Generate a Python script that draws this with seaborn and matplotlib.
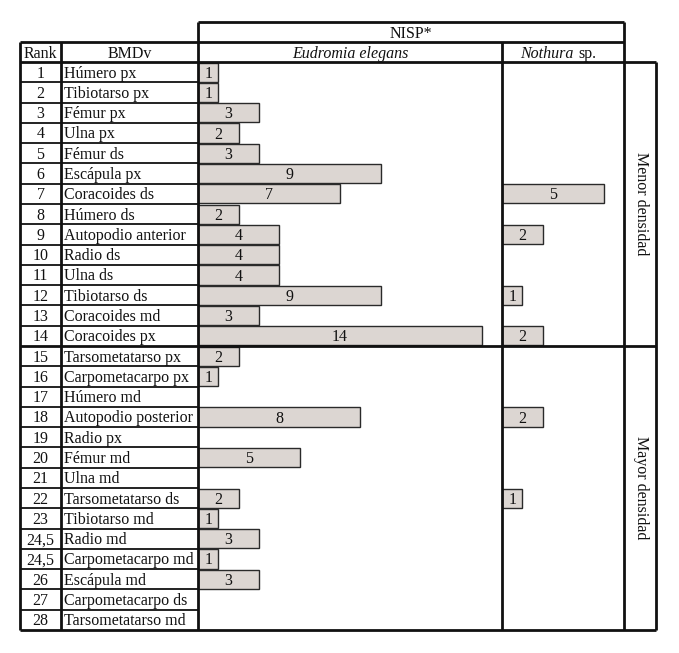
import pandas as pd
import matplotlib
matplotlib.use("Agg")
import matplotlib.pyplot as plt
import seaborn as sns

# datos de la tabla
rank = ["1", "2", "3", "4", "5", "6", "7", "8", "9", "10", "11", "12", "13", "14",
        "15", "16", "17", "18", "19", "20", "21", "22", "23", "24,5", "24,5", "26", "27", "28"]
bmdv = ["Húmero px", "Tibiotarso px", "Fémur px", "Ulna px", "Fémur ds", "Escápula px",
        "Coracoides ds", "Húmero ds", "Autopodio anterior", "Radio ds", "Ulna ds",
        "Tibiotarso ds", "Coracoides md", "Coracoides px", "Tarsometatarso px",
        "Carpometacarpo px", "Húmero md", "Autopodio posterior", "Radio px", "Fémur md",
        "Ulna md", "Tarsometatarso ds", "Tibiotarso md", "Radio md", "Carpometacarpo md",
        "Escápula md", "Carpometacarpo ds", "Tarsometatarso md"]
eudromia = [1, 1, 3, 2, 3, 9, 7, 2, 4, 4, 4, 9, 3, 14, 2, 1, 0, 8, 0, 5, 0, 2, 1, 3, 1, 3, 0, 0]
nothura = [0, 0, 0, 0, 0, 0, 5, 0, 2, 0, 0, 1, 0, 2, 0, 0, 0, 2, 0, 0, 0, 1, 0, 0, 0, 0, 0, 0]
grupos = ["Menor densidad", "Mayor densidad"]

sns.set_style("white")
plt.rcParams['font.family'] = ['Liberation Serif', 'DejaVu Serif']

W, H = 679, 653
fig = plt.figure(figsize=(W / 100, H / 100), dpi=100)

# geometría en píxeles
x_rank, x_bmd, x_eud, x_not, x_grp, x_end = 20, 61, 198, 502, 624, 656
y_nisp, y_head, y_top, y_bot = 22, 42, 62, 630
n = len(bmdv)
row_h = (y_bot - y_top) / n
px_unit = 20.3

bar_color = "#dcd6d2"
edge = "#2a2a2a"
fs = 11.5
k = "#111111"
base = 5.5  # desplazamiento de la línea base respecto al centro de la fila (px)


def bar_axes(x0, x1):
    ax = fig.add_axes([x0 / W, (H - y_bot) / H, (x1 - x0) / W, (y_bot - y_top) / H])
    ax.set_axis_off()
    return ax


def dibujar(ax, valores, x0, x1):
    df = pd.DataFrame({"hueso": bmdv, "nisp": valores})
    df = df[df["nisp"] > 0]
    sns.barplot(data=df, x="nisp", y="hueso", order=bmdv, orient="h", ax=ax,
                color=bar_color, saturation=1, width=0.94, edgecolor=edge,
                linewidth=1.0, errorbar=None)
    for cont in ax.containers:
        labels = ax.bar_label(cont, label_type="center", fontsize=fs, color=k)
        for t in labels:
            t.set_va("baseline")
            t.xyann = (0, -base * 0.72)
    ax.set_xlim(0, (x1 - x0) / px_unit)
    ax.set_ylim(n - 0.5, -0.5)
    ax.set_axis_off()


ax_e = bar_axes(x_eud, x_not)
dibujar(ax_e, eudromia, x_eud, x_not)
ax_n = bar_axes(x_not, x_grp)
dibujar(ax_n, nothura, x_not, x_grp)

# capa de la tabla en píxeles
ov = fig.add_axes([0, 0, 1, 1], facecolor="none")
ov.set_xlim(0, W)
ov.set_ylim(H, 0)
ov.set_axis_off()

lw_out = 2.0
lw_in = 1.3

# líneas horizontales
ov.hlines(y_nisp, x_eud, x_grp, color=k, lw=lw_out)
ov.hlines(y_head, x_rank, x_grp, color=k, lw=lw_out)
ov.hlines(y_top, x_rank, x_end, color=k, lw=lw_out)
ov.hlines(y_bot, x_rank, x_end, color=k, lw=lw_out)
ov.hlines(y_top + 14 * row_h, x_rank, x_end, color=k, lw=lw_out)
for i in range(1, n):
    if i != 14:
        ov.hlines(y_top + i * row_h, x_rank, x_eud, color=k, lw=lw_in)

# líneas verticales
ov.vlines([x_rank, x_bmd], y_head, y_bot, color=k, lw=lw_out)
ov.vlines([x_eud, x_grp], y_nisp, y_bot, color=k, lw=lw_out)
ov.vlines(x_not, y_head, y_bot, color=k, lw=lw_out)
ov.vlines(x_end, y_top, y_bot, color=k, lw=lw_out)


def celda(x, yc, s, ha="center", **kw):
    ov.text(x, yc + base, s, ha=ha, va="baseline", fontsize=fs, color=k, **kw)


# encabezados
celda((x_eud + x_grp) / 2, (y_nisp + y_head) / 2, "NISP*")
celda((x_rank + x_bmd) / 2, (y_head + y_top) / 2, "Rank")
celda((x_bmd + x_eud) / 2, (y_head + y_top) / 2, "BMDv")
celda((x_eud + x_not) / 2, (y_head + y_top) / 2, "Eudromia elegans", style="italic")
celda(573, (y_head + y_top) / 2, "Nothura", ha="right", style="italic")
celda(578, (y_head + y_top) / 2, "sp.", ha="left")

# filas
for i, (r, b) in enumerate(zip(rank, bmdv)):
    yc = y_top + (i + 0.5) * row_h
    celda((x_rank + x_bmd) / 2, yc, r)
    celda(x_bmd + 3, yc, b, ha="left")

# grupos de densidad
for j, g in enumerate(grupos):
    yc = y_top + (j * 14 + 7) * row_h
    ov.text((x_grp + x_end) / 2 + 1, yc, g, ha="center", va="center", fontsize=fs,
            color=k, rotation=-90)

fig.savefig("out.png", dpi=100, facecolor="white")
